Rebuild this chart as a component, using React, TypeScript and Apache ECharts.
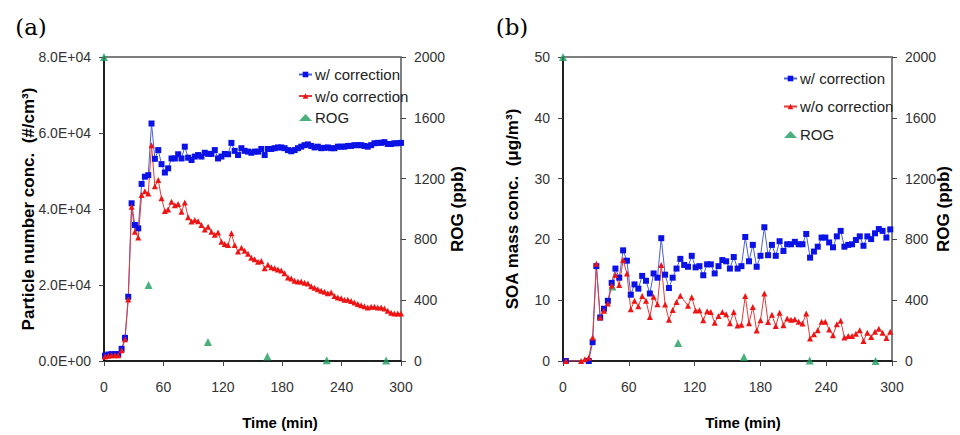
import React, { useEffect, useRef } from 'react';
import * as echarts from 'echarts';

// ---------- Panel (a): particle number concentration ----------
const timeA = [
  1.0, 4.4, 7.7, 11.1, 14.4, 17.8, 21.2, 24.5, 27.9, 31.2,
  34.6, 38.0, 41.3, 44.7, 48.0, 51.4, 54.8, 58.1, 61.5, 64.8,
  68.2, 71.6, 74.9, 78.3, 81.6, 85.0, 88.4, 91.7, 95.1, 98.4,
  101.8, 105.2, 108.5, 111.9, 115.2, 118.6, 122.0, 125.3, 128.7, 132.0,
  135.4, 138.8, 142.1, 145.5, 148.8, 152.2, 155.6, 158.9, 162.3, 165.6,
  169.0, 172.4, 175.7, 179.1, 182.4, 185.8, 189.2, 192.5, 195.9, 199.2,
  202.6, 206.0, 209.3, 212.7, 216.0, 219.4, 222.8, 226.1, 229.5, 232.8,
  236.2, 239.6, 242.9, 246.3, 249.6, 253.0, 256.4, 259.7, 263.1, 266.4,
  269.8, 273.2, 276.5, 279.9, 283.2, 286.6, 290.0, 293.3, 296.7, 300.0,
];
const withCorrA = [
  1400, 1700, 1800, 1800, 1800, 3200, 6100, 16900, 41500, 35800,
  34900, 46600, 48500, 48900, 62500, 53200, 55500, 51800, 49600, 50700,
  53300, 53300, 54400, 53300, 56400, 53500, 52900, 53800, 54200, 53800,
  54800, 54500, 54500, 55500, 53300, 53800, 54500, 54400, 57400, 55300,
  54200, 56000, 55300, 55100, 54800, 55100, 55100, 55800, 54200, 55800,
  55800, 56000, 56200, 56200, 56000, 55500, 55200, 55500, 56000, 56400,
  56800, 57000, 56600, 56200, 56400, 56000, 56100, 56200, 56000, 56000,
  56400, 56400, 56400, 56600, 56600, 56800, 56800, 56800, 56600, 56400,
  56800, 57300, 57400, 57400, 57600, 57100, 57100, 57300, 57300, 57400,
];
const withoutCorrA = [
  1200, 1400, 1500, 1500, 1500, 2800, 5700, 16200, 40600, 34000,
  32500, 43700, 44700, 44100, 56800, 46000, 47600, 42800, 39500, 39900,
  41900, 41000, 41300, 39300, 41700, 37800, 36700, 37100, 36800, 35800,
  34600, 35300, 34000, 33200, 33800, 31400, 30800, 30500, 33600, 30500,
  28800, 29800, 29000, 28200, 27200, 26800, 26100, 26300, 24400, 25300,
  24700, 24400, 24100, 23800, 23100, 22000, 21700, 21100, 20900, 20900,
  20600, 20400, 19700, 19300, 18900, 18500, 18200, 17800, 18000, 17100,
  16700, 16500, 16100, 16100, 15800, 15400, 15000, 14700, 14400, 14100,
  14300, 14300, 14100, 14100, 13800, 13200, 12700, 12500, 12500, 12500,
];
const rogTime = [0, 45, 105, 165, 225, 285];
const rogA = [2000, 500, 125, 30, 5, 3];

// ---------- Panel (b): SOA mass concentration ----------
const timeB = [
  2.6, 6.1, 9.6, 13.0, 16.5, 20.0, 23.5, 27.0, 30.4, 33.9,
  37.4, 40.9, 44.4, 47.8, 51.3, 54.8, 58.3, 61.8, 65.2, 68.7,
  72.2, 75.7, 79.2, 82.6, 86.1, 89.6, 93.1, 96.6, 100.0, 103.5,
  107.0, 110.5, 114.0, 117.4, 120.9, 124.4, 127.9, 131.4, 134.8, 138.3,
  141.8, 145.3, 148.8, 152.2, 155.7, 159.2, 162.7, 166.2, 169.6, 173.1,
  176.6, 180.1, 183.6, 187.0, 190.5, 194.0, 197.5, 201.0, 204.4, 207.9,
  211.4, 214.9, 218.4, 221.8, 225.3, 228.8, 232.3, 235.8, 239.2, 242.7,
  246.2, 249.7, 253.2, 256.6, 260.1, 263.6, 267.1, 270.6, 274.0, 277.5,
  281.0, 284.5, 288.0, 291.4, 294.9, 298.4,
];
const withCorrB: (number | null)[] = [
  0, null, null, null, null, null, 0, 3.1, 15.6, 7.15,
  8.6, 9.9, 12.85, 15.2, 13.7, 18.2, 16.5, 10.9, 12.6, 11.9,
  14.0, 13.2, 11.1, 14.4, 13.7, 20.2, 14.2, 12.0, 13.7, 15.2,
  16.8, 15.8, 15.5, 17.3, 15.4, 15.6, 14.1, 15.9, 15.9, 14.4,
  15.6, 16.6, 16.4, 15.2, 17.1, 15.2, 15.6, 20.4, 16.4, 19.1,
  15.5, 17.3, 22.0, 17.4, 19.1, 17.3, 19.7, 18.1, 19.2, 19.2,
  19.6, 19.2, 19.2, 20.9, 17.0, 18.0, 18.8, 20.3, 20.3, 19.5,
  18.7, 20.5, 21.4, 18.8, 19.1, 19.2, 19.9, 20.5, 18.95, 20.5,
  20.05, 21.0, 21.7, 21.4, 20.3, 21.65,
];
const withoutCorrB: (number | null)[] = [
  0, null, null, null, 0, 0.3, 0.55, 3.85, 16.0, 7.15,
  8.25, 9.45, 12.4, 14.2, 12.5, 16.6, 14.4, 8.5, 9.9, 9.0,
  10.7, 9.9, 7.25, 10.55, 9.35, 15.8, 9.3, 6.8, 8.4, 9.7,
  10.75, null, 9.1, 10.5, 8.3, 8.35, 6.7, 8.2, 8.05, 6.3,
  7.4, 8.05, 7.7, 6.2, 8.05, 5.85, 5.95, 10.7, 6.2, 8.9,
  5.0, 6.7, 11.1, 6.4, 7.6, 5.75, 7.95, 5.9, 7.0, 6.8,
  6.85, 6.45, 6.15, 7.8, 3.7, 4.4, 5.05, 6.45, 6.45, 5.2,
  4.25, 6.05, 6.6, 3.85, 4.1, 4.1, 4.5, 5.05, 3.3, 4.65,
  3.95, 4.8, 5.3, 4.65, 3.8, 4.8,
];
const rogB = [2000, 490, 118, 26, 3, 0];

const seriesNames = ['w/ correction', 'w/o correction', 'ROG'];

const SANS = '"Liberation Sans", Arial, sans-serif';

const BLUE = '#0b12e6';
const BLUE_LINE = '#4b62cf';
const RED = '#ee1414';
const RED_LINE = '#e43a3a';
const GREEN = '#1d9c5e';

function pairs(t: number[], v: (number | null)[]) {
  return t.map((x, i) => [x, v[i]]).filter((p) => p[1] !== null);
}

function sciLabel(v: number) {
  if (v === 0) return '0.0E+00';
  return (v / 10000).toFixed(1) + 'E+04';
}

const plainLabel = (v: number) => String(v);

const labelStyle = { color: '#333', fontSize: 14, fontFamily: SANS };

function xAxisFor(gridIndex: number) {
  return {
    type: 'value', gridIndex, min: 0, max: 300, interval: 60,
    axisLine: { show: true, lineStyle: { color: '#000', width: 1.5 } },
    axisTick: { show: true, inside: false, length: 5, lineStyle: { color: '#444' } },
    axisLabel: { ...labelStyle, margin: 19, formatter: plainLabel },
    splitLine: { show: false },
  };
}

function leftY(gridIndex: number, max: number, interval: number, fmt: (v: number) => string) {
  return {
    type: 'value', gridIndex, position: 'left', min: 0, max, interval,
    axisLine: { show: true, lineStyle: { color: '#000', width: 1.5 } },
    axisTick: { show: true, inside: false, length: 5, lineStyle: { color: '#444' } },
    axisLabel: { ...labelStyle, margin: 13, formatter: fmt },
    splitLine: { show: false },
  };
}

function rightY(gridIndex: number) {
  return {
    type: 'value', gridIndex, position: 'right', min: 0, max: 2000, interval: 400,
    axisLine: { show: true, lineStyle: { color: '#808080', width: 2 } },
    axisTick: { show: true, inside: false, length: 5, lineStyle: { color: '#444' } },
    axisLabel: { ...labelStyle, margin: 13, formatter: plainLabel },
    splitLine: { show: false },
  };
}

function seriesFor(xi: number, yl: number, yr: number, t: number[], w: (number | null)[], wo: (number | null)[], rog: number[]) {
  return [
    {
      name: seriesNames[0], type: 'line', xAxisIndex: xi, yAxisIndex: yl,
      data: pairs(t, w), symbol: 'rect', symbolSize: 6, showSymbol: true,
      lineStyle: { color: BLUE_LINE, width: 1 }, itemStyle: { color: BLUE },
      connectNulls: true,
    },
    {
      name: seriesNames[1], type: 'line', xAxisIndex: xi, yAxisIndex: yl,
      data: pairs(t, wo), symbol: 'triangle', symbolSize: 6, showSymbol: true,
      lineStyle: { color: RED_LINE, width: 1 }, itemStyle: { color: RED },
      connectNulls: true,
    },
    {
      name: seriesNames[2], type: 'scatter', xAxisIndex: xi, yAxisIndex: yr,
      data: pairs(rogTime, rog), symbol: 'triangle', symbolSize: 8,
      itemStyle: { color: GREEN },
    },
  ];
}

function legendAt(left: number, top: number, gap: number) {
  return {
    orient: 'vertical', left, top, itemGap: gap, itemWidth: 13, itemHeight: 7,
    data: seriesNames,
    textStyle: { fontSize: 15, fontFamily: SANS, color: '#222', padding: [0, 0, 0, -2] },
    selectedMode: false,
  };
}

function rotText(x: number, y: number, text: string, size: number) {
  return {
    type: 'text', x, y, rotation: Math.PI / 2,
    style: { text, fill: '#000', font: `bold ${size}px ${SANS}`, align: 'center', verticalAlign: 'middle' },
  };
}

function flatText(x: number, y: number, text: string, font: string) {
  return {
    type: 'text', x, y,
    style: { text, fill: '#000', font, align: 'center', verticalAlign: 'middle' },
  };
}

const option = {
  animation: false,
  backgroundColor: '#fff',
  grid: [
    { left: 104, right: 559, top: 57, bottom: 74, show: true, borderColor: '#000', borderWidth: 1, backgroundColor: 'transparent' },
    { left: 563, right: 68, top: 57, bottom: 74, show: true, borderColor: '#000', borderWidth: 1, backgroundColor: 'transparent' },
  ],
  xAxis: [xAxisFor(0), xAxisFor(1)],
  yAxis: [
    leftY(0, 80000, 20000, sciLabel),
    rightY(0),
    leftY(1, 50, 10, plainLabel),
    rightY(1),
  ],
  legend: [legendAt(293, 62, 6.5), legendAt(778, 66, 13)],
  series: [
    ...seriesFor(0, 0, 1, timeA, withCorrA, withoutCorrA, rogA),
    ...seriesFor(1, 2, 3, timeB, withCorrB, withoutCorrB, rogB),
  ],
  graphic: [
    flatText(31, 27, '(a)', '23px "DejaVu Serif", "Liberation Serif", serif'),
    flatText(512, 27, '(b)', '23px "DejaVu Serif", "Liberation Serif", serif'),
    rotText(28, 209, 'Particle number conc.  (#/cm³)', 17),
    rotText(457, 209, 'ROG (ppb)', 17),
    rotText(512, 209, 'SOA mass conc.  (μg/m³)', 17),
    rotText(943, 209, 'ROG (ppb)', 17),
    flatText(280, 422, 'Time (min)', `bold 15px ${SANS}`),
    flatText(743, 422, 'Time (min)', `bold 15px ${SANS}`),
  ],
};

export default function App() {
  const ref = useRef<HTMLDivElement>(null);
  useEffect(() => {
    if (!ref.current) return;
    const chart = echarts.init(ref.current, null, { renderer: 'svg' });
    chart.setOption(option as any);
    return () => chart.dispose();
  }, []);
  return (
    <div
      ref={ref}
      style={{ position: 'fixed', left: 0, top: 0, width: 960, height: 435, background: '#fff' }}
    />
  );
}
